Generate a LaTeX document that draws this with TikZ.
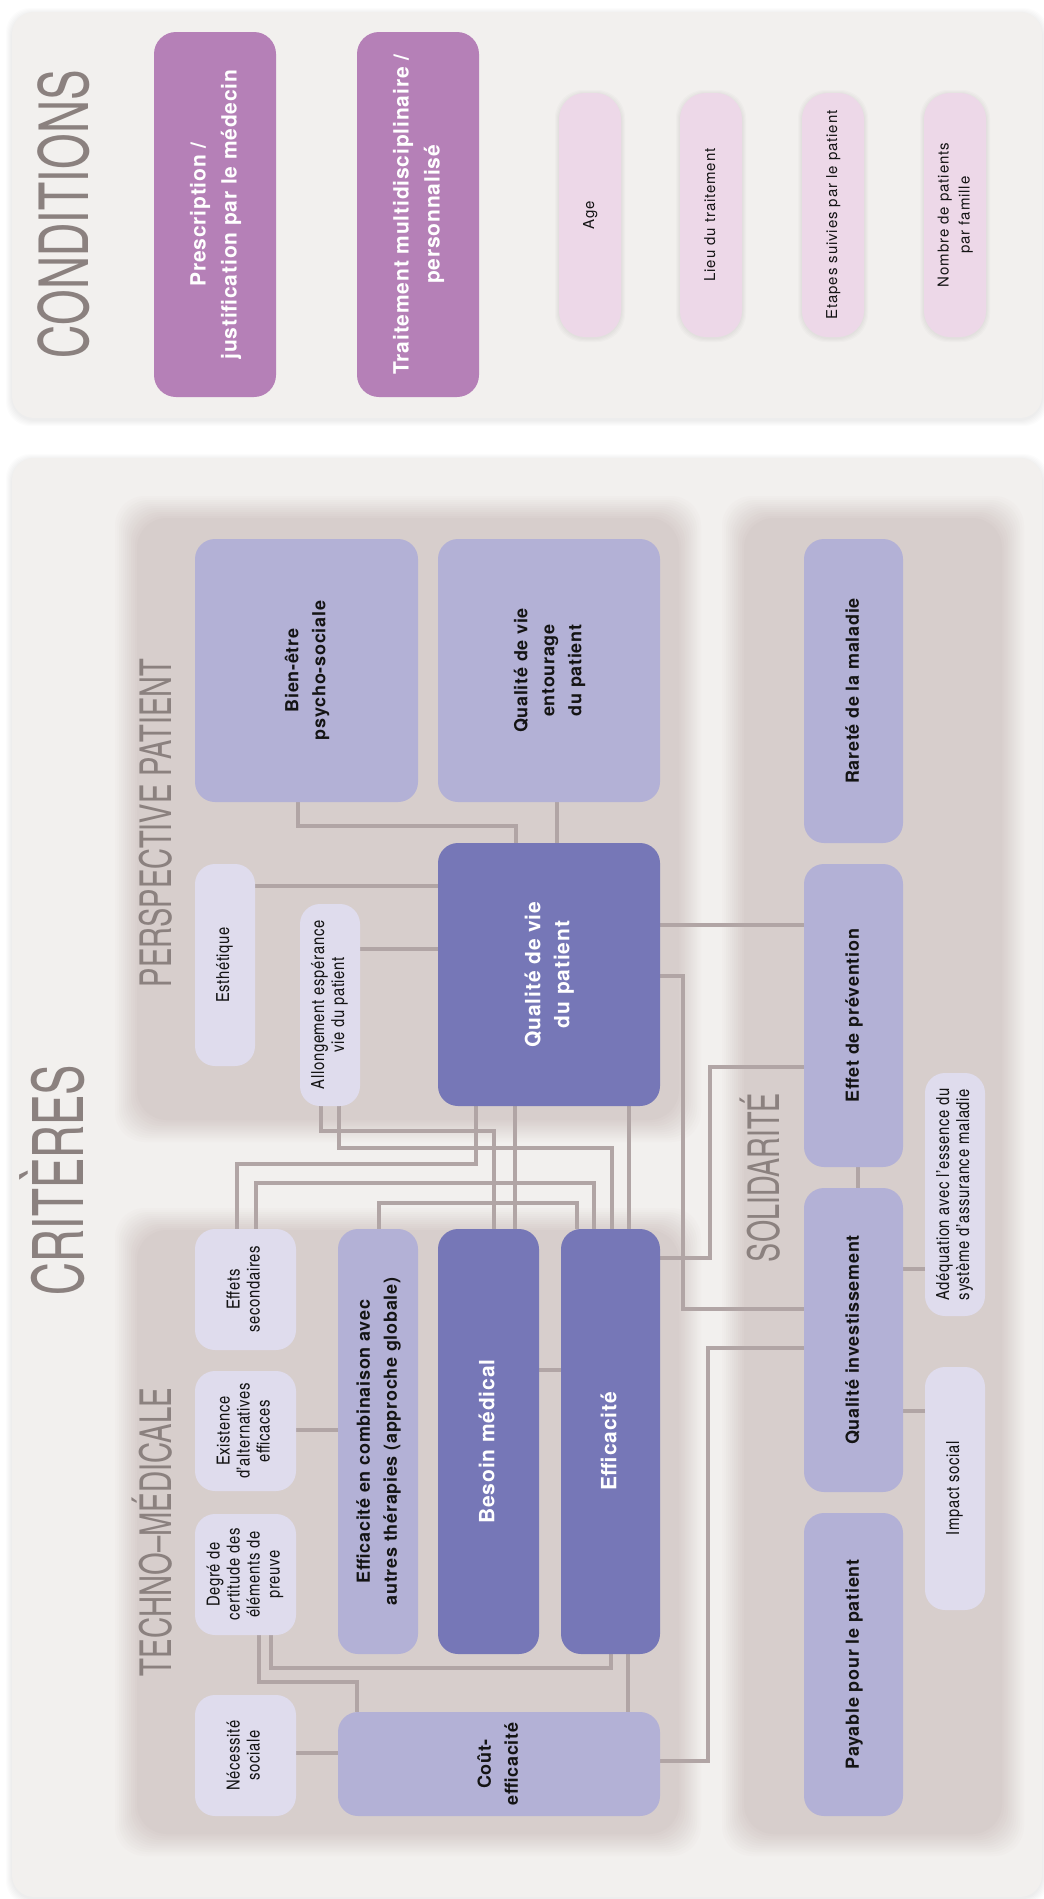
\documentclass[tikz,border=0pt]{standalone}
\usepackage{fontspec}
\usepackage{graphicx}
\setmainfont{TeX Gyre Heros}
\newfontfamily\trackfont{TeX Gyre Heros}[LetterSpace=4]
\newfontfamily\widetrack{TeX Gyre Heros}[LetterSpace=6]
\newfontfamily\cnfont{texgyreheroscn}[Extension=.otf, UprightFont=*-regular, BoldFont=*-bold, LetterSpace=4]
\newfontfamily\titlefont{texgyreheroscn}[Extension=.otf, UprightFont=*-regular]

\definecolor{cPanel}{RGB}{242,240,238}
\definecolor{cGroup}{RGB}{215,206,204}
\definecolor{cDark}{RGB}{118,119,183}
\definecolor{cMid}{RGB}{179,177,214}
\definecolor{cLight}{RGB}{223,220,237}
\definecolor{cCondA}{RGB}{181,128,183}
\definecolor{cCondB}{RGB}{237,216,232}
\definecolor{cLink}{RGB}{177,165,165}
\definecolor{cTitle}{RGB}{139,129,127}
\definecolor{cInk}{RGB}{20,20,20}

\pgfdeclarelayer{bg}
\pgfdeclarelayer{links}
\pgfsetlayers{bg,links,main}

% rotated, centred multi-line label
\newcommand\vtext[1]{\rotatebox{90}{\begin{tabular}{@{}c@{}}#1\end{tabular}}}
% rotated heading stretched to a given length
\newcommand\vtitle[3]{\rotatebox{90}{\resizebox{#2pt}{\height}{\titlefont\fontsize{#1}{#1}\selectfont #3}}}
% group area with a feathered edge
\newcommand\softpanel[4]{%
  \foreach \k in {0,...,11}{%
    \pgfmathtruncatemacro\pc{(\k+1)*100/12}%
    \fill[cGroup!\pc!cPanel, rounded corners=30pt] ({#1+2*\k},{#2+2*\k}) rectangle ({#3-2*\k},{#4-2*\k});
  }}
% light panel with a soft drop shadow
\newcommand\mainpanel[4]{%
  \foreach \s in {1,...,6}{%
    \fill[black, opacity=0.012, rounded corners=24pt] ({#1-\s},{#2-\s+2}) rectangle ({#3+\s},{#4+\s+2});
  }%
  \fill[cPanel, rounded corners=22pt] (#1,#2) rectangle (#3,#4);}
% faint halo behind a pill
\newcommand\halo[4]{%
  \foreach \s in {1,...,4}{%
    \fill[black, opacity=0.015, rounded corners=28pt] ({#1-\s},{#2-\s+1}) rectangle ({#3+\s},{#4+\s+1});
  }}

\tikzset{
  tile/.style={rounded corners=20pt, inner sep=0pt, outer sep=0pt, anchor=north west},
  darkbox/.style={tile, fill=cDark, text=white, font=\trackfont\bfseries\fontsize{21}{29}\selectfont},
  midbox/.style={tile, fill=cMid, text=cInk, font=\trackfont\bfseries\fontsize{18}{27}\selectfont},
  lightbox/.style={tile, fill=cLight, text=cInk, font=\cnfont\fontsize{18}{20}\selectfont},
  condmain/.style={tile, rounded corners=22pt, fill=cCondA, text=white, font=\trackfont\bfseries\fontsize{21}{31}\selectfont},
  condsub/.style={tile, rounded corners=26pt, fill=cCondB, text=cInk, font=\widetrack\fontsize{15}{21}\selectfont},
  link/.style={draw=cLink, line width=4pt},
  heading/.style={inner sep=0pt, outer sep=0pt, anchor=south east, text=cTitle},
}

\begin{document}
\begin{tikzpicture}[x=1pt, y=-1pt]
\useasboundingbox (0,0) rectangle (1044,1899);

\begin{pgfonlayer}{bg}
  \fill[white] (0,0) rectangle (1044,1899);
  \mainpanel{12}{12}{1042}{418}
  \mainpanel{12}{458}{1042}{1897}
  \softpanel{115}{496}{701}{1142}
  \softpanel{115}{1208}{701}{1856}
  \softpanel{722}{496}{1024}{1856}
  \halo{559}{93}{621}{337}
  \halo{680}{93}{742}{337}
  \halo{802}{93}{864}{337}
  \halo{924}{93}{986}{337}
\end{pgfonlayer}

% headings
\node[heading] (hCond) at (90,358) {\vtitle{69}{288}{CONDITIONS}};
\node[heading] (hCrit) at (85,1295) {\vtitle{71}{230}{CRITÈRES}};
\node[heading] (hPat) at (172,987) {\vtitle{44}{328}{PERSPECTIVE PATIENT}};
\node[heading] (hTech) at (172,1676) {\vtitle{44}{288}{TECHNO–MÉDICALE}};
\node[heading] (hSol) at (780,1262) {\vtitle{44}{169}{SOLIDARITÉ}};

% conditions
\node[condmain, minimum width=122pt, minimum height=365pt] (presc) at (154,32) {\vtext{Prescription /\\justification par le médecin}};
\node[condmain, minimum width=122pt, minimum height=365pt] (trait) at (357,32) {\vtext{Traitement multidisciplinaire /\\personnalisé}};
\node[condsub, minimum width=62pt, minimum height=244pt] (age) at (559,93) {\vtext{Age}};
\node[condsub, minimum width=62pt, minimum height=244pt] (lieu) at (680,93) {\vtext{Lieu du traitement}};
\node[condsub, minimum width=62pt, minimum height=244pt] (etapes) at (802,93) {\vtext{Etapes suivies par le patient}};
\node[condsub, minimum width=62pt, minimum height=244pt] (nombre) at (924,93) {\vtext{Nombre de patients\\par famille}};

% perspective patient
\node[midbox, minimum width=223pt, minimum height=263pt] (bien) at (195,539) {\vtext{Bien-être\\psycho-sociale}};
\node[midbox, minimum width=222pt, minimum height=263pt] (entour) at (438,539) {\vtext{Qualité de vie\\entourage\\du patient}};
\node[lightbox, minimum width=60pt, minimum height=202pt] (esth) at (195,864) {\vtext{Esthétique}};
\node[lightbox, minimum width=60pt, minimum height=202pt] (allong) at (300,904) {\vtext{Allongement espérance\\vie du patient}};
\node[darkbox, minimum width=222pt, minimum height=263pt] (qvp) at (438,843) {\vtext{Qualité de vie\\du patient}};

% solidarite
\node[midbox, minimum width=99pt, minimum height=304pt] (rarete) at (804,539) {\vtext{Rareté de la maladie}};
\node[midbox, minimum width=99pt, minimum height=303pt] (effet) at (804,864) {\vtext{Effet de prévention}};
\node[lightbox, minimum width=60pt, minimum height=243pt] (adeq) at (925,1073) {\vtext{Adéquation avec l’essence du\\système d’assurance maladie}};
\node[midbox, minimum width=99pt, minimum height=304pt] (qinv) at (804,1188) {\vtext{Qualité investissement}};
\node[lightbox, minimum width=60pt, minimum height=243pt] (impact) at (925,1367) {\vtext{Impact social}};
\node[midbox, minimum width=99pt, minimum height=303pt] (payable) at (804,1513) {\vtext{Payable pour le patient}};

% techno-medicale
\node[lightbox, minimum width=101pt, minimum height=121pt] (effets) at (195,1229) {\vtext{Effets\\secondaires}};
\node[lightbox, minimum width=101pt, minimum height=120pt] (exist) at (195,1371) {\vtext{Existence\\d’alternatives\\efficaces}};
\node[lightbox, minimum width=101pt, minimum height=121pt] (degre) at (195,1514) {\vtext{Degré de\\certitude des\\éléments de\\preuve}};
\node[lightbox, minimum width=101pt, minimum height=121pt] (necess) at (195,1695) {\vtext{Nécessité\\sociale}};
\node[midbox, minimum width=80pt, minimum height=425pt] (combi) at (338,1229) {\vtext{Efficacité en combinaison avec\\autres thérapies (approche globale)}};
\node[darkbox, minimum width=101pt, minimum height=425pt] (besoin) at (438,1229) {\vtext{Besoin médical}};
\node[darkbox, minimum width=99pt, minimum height=425pt] (effic) at (561,1229) {\vtext{Efficacité}};
\node[midbox, minimum width=322pt, minimum height=104pt] (cout) at (338,1712) {\vtext{Coût-\\efficacité}};

% connectors
\begin{pgfonlayer}{links}
  \draw[link] (bien.south -| 298,0) |- (516,826) -- (qvp.north -| 516,0);
  \draw[link] (entour.south -| 557,0) -- (qvp.north -| 557,0);
  \draw[link] (esth.east |- 0,886) -- (qvp.west |- 0,886);
  \draw[link] (allong.east |- 0,949) -- (qvp.west |- 0,949);
  \draw[link] (qvp.east |- 0,925) -- (effet.west |- 0,925);
  \draw[link] (qvp.east |- 0,976) -| (683,1309) -- (qinv.west |- 0,1309);
  \draw[link] (effic.east |- 0,1258) -| (710,1067) -- (effet.west |- 0,1067);
  \draw[link] (effet.south -| 858,0) -- (qinv.north -| 858,0);
  \draw[link] (qinv.east |- 0,1269) -- (adeq.west |- 0,1269);
  \draw[link] (qinv.east |- 0,1411) -- (impact.west |- 0,1411);
  \draw[link] (cout.east |- 0,1761) -| (708,1348) -- (qinv.west |- 0,1348);
  \draw[link] (effic.south -| 628,0) -- (cout.north -| 628,0);
  \draw[link] (besoin.east |- 0,1370) -- (effic.west |- 0,1370);
  \draw[link] (exist.east |- 0,1430) -- (combi.west |- 0,1430);
  \draw[link] (necess.east |- 0,1753) -- (cout.west |- 0,1753);
  \draw[link] (degre.south -| 259,0) |- (357,1682) -- (cout.north -| 357,0);
  \draw[link] (degre.south -| 271,0) |- (611,1668) -- (effic.south -| 611,0);
  \draw[link] (allong.south -| 321,0) |- (494,1131) -- (besoin.north -| 494,0);
  \draw[link] (allong.south -| 339,0) |- (612,1148) -- (effic.north -| 612,0);
  \draw[link] (qvp.south -| 476,0) |- (237,1164) -- (effets.north -| 237,0);
  \draw[link] (qvp.south -| 515,0) -- (besoin.north -| 515,0);
  \draw[link] (qvp.south -| 629,0) -- (effic.north -| 629,0);
  \draw[link] (effets.north -| 256,0) |- (594,1183) -- (effic.north -| 594,0);
  \draw[link] (combi.north -| 379,0) |- (577,1203) -- (effic.north -| 577,0);
\end{pgfonlayer}
\end{tikzpicture}
\end{document}
